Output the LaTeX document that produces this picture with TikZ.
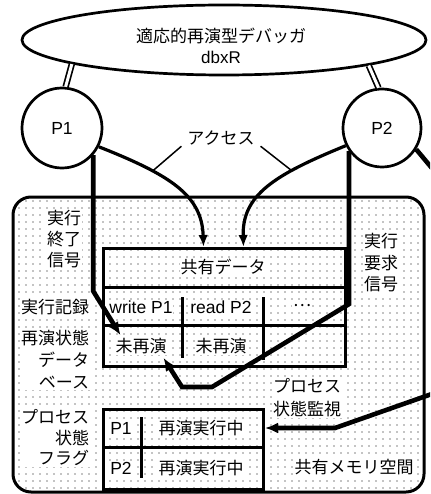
\documentclass[tikz,border=0pt]{standalone}
\usepackage{fontspec}
\setmainfont{Noto Sans CJK JP}
\newfontfamily\lat{Liberation Sans}
\usetikzlibrary{arrows.meta,patterns.meta,shapes.geometric}
\begin{document}
\begin{tikzpicture}[x=1pt,y=-1pt,
  jp/.style={font=\fontsize{17}{21}\selectfont, inner sep=0.8pt},
  jpw/.style={jp, fill=white},
  la/.style={font=\lat\fontsize{17.5}{21}\selectfont, inner sep=0.8pt},
  law/.style={la, fill=white},
  outline/.style={line width=2.7pt},
  boxline/.style={draw, line width=3pt, inner sep=0pt},
  divline/.style={line width=3pt},
  dbl/.style={line width=1.7pt, double=white, double distance=3pt},
  sig/.style={line width=4.6pt, -{Latex[length=13pt,width=11pt]}},
  acc/.style={line width=3.2pt, -{Latex[length=12pt,width=9.5pt]}},
  leader/.style={line width=1.5pt},
  memory/.style={line width=3pt, rounded corners=18pt,
     pattern={Dots[distance=6.5pt, radius=0.6pt]}, pattern color=black},
]
\useasboundingbox (0,0) rectangle (430,494);
\clip (0,0) rectangle (430,494);

% shared memory space
\draw[memory] (13,197) rectangle (424,492);

% debugger and processes
\node[draw, outline, ellipse, fill=white, minimum width=404, minimum height=70] (dbg) at (224,40) {};
\node[jp, align=center] (dbgt) at (221,46) {適応的再演型デバッガ\\{\lat dbxR}};
\node[draw, outline, circle, fill=white, minimum size=80, inner sep=0pt] (P1) at (62,128) {};
\node[la] at (P1) {P1};
\node[draw, outline, circle, fill=white, minimum size=78, inner sep=0pt] (P2) at (382,128) {};
\node[la] at (P2) {P2};
\draw[dbl] (dbg.189.5) -- (P1.85);
\draw[dbl] (dbg.350.5) -- (P2.95);

% shared data table
\node[boxline, minimum width=242, minimum height=118, anchor=north west] (sd) at (102,247) {};
\draw[divline] (sd.west |- 0,287) -- (sd.east |- 0,287);
\draw[divline] (sd.west |- 0,325) -- (sd.east |- 0,325);
\draw[divline] (182,297) -- (182,358);
\draw[divline] (263,297) -- (263,360);
\node[jpw] (sdh) at (223,267) {共有データ};
\node[law] (w1) at (141,307) {write P1};
\node[law] (r2) at (221,307) {read P2};
\node[jpw] (dd) at (302,306) {…};
\node[jpw] (m1) at (141,346) {未再演};
\node[jpw] (m2) at (221,346) {未再演};

% process state flag table
\node[boxline, minimum width=160, minimum height=80, anchor=north west] (flag) at (102,408) {};
\draw[divline] (flag.west |- 0,447) -- (flag.east |- 0,447);
\draw[divline] (141,417) -- (141,478);
\node[law] (fp1) at (121,428) {P1};
\node[jpw] (fs1) at (201,428) {再演実行中};
\node[law] (fp2) at (121,468) {P2};
\node[jpw] (fs2) at (201,468) {再演実行中};

% labels
\node[jpw, align=center] (lend) at (64,239) {実行\\終了\\信号};
\node[jpw, anchor=east] (lrec) at (90,307) {実行記録};
\node[jpw, anchor=east, align=right, font=\fontsize{17}{22}\selectfont] (ldb) at (90,360) {再演状態\\データ\\ベース};
\node[jpw, anchor=east, align=right, font=\fontsize{17}{20.5}\selectfont] (lflag) at (90,438) {プロセス\\状態\\フラグ};
\node[jpw, align=center, font=\fontsize{17}{21.5}\selectfont] (lreq) at (381,263) {実行\\要求\\信号};
\node[jpw, anchor=west, align=left, font=\fontsize{17}{23}\selectfont] (lmon) at (272,398) {プロセス\\状態監視};
\node[jpw] (lmem) at (354,467) {共有メモリ空間};
\node[jp] (acc) at (221,138) {アクセス};

% access arrows
\draw[acc] (P1.-27) .. controls (170,175) and (202,195) .. ([xshift=-21pt]sd.north) coordinate[pos=0.3] (cL);
\draw[acc] (P2.206) .. controls (274,175) and (242,195) .. ([xshift=19pt]sd.north) coordinate[pos=0.3] (cR);
\draw[leader] ([xshift=-5pt]acc.south west) -- (cL);
\draw[leader] ([xshift=5pt]acc.south east) -- (cR);

% signal lines
\draw[sig] (P1.-41) -- ++(0,136) -- ([xshift=6pt,yshift=2pt]m1.north west);
\draw[sig] (P2.215) -- ++(0,153) -- (212,387) -- (182,387) -- ([xshift=-4pt,yshift=-3pt]m1.south east);
\draw[sig] (P2.-32) -- (446,185) -- (446,389) -- (335,428) -- (flag.east |- fs1);
\end{tikzpicture}
\end{document}
